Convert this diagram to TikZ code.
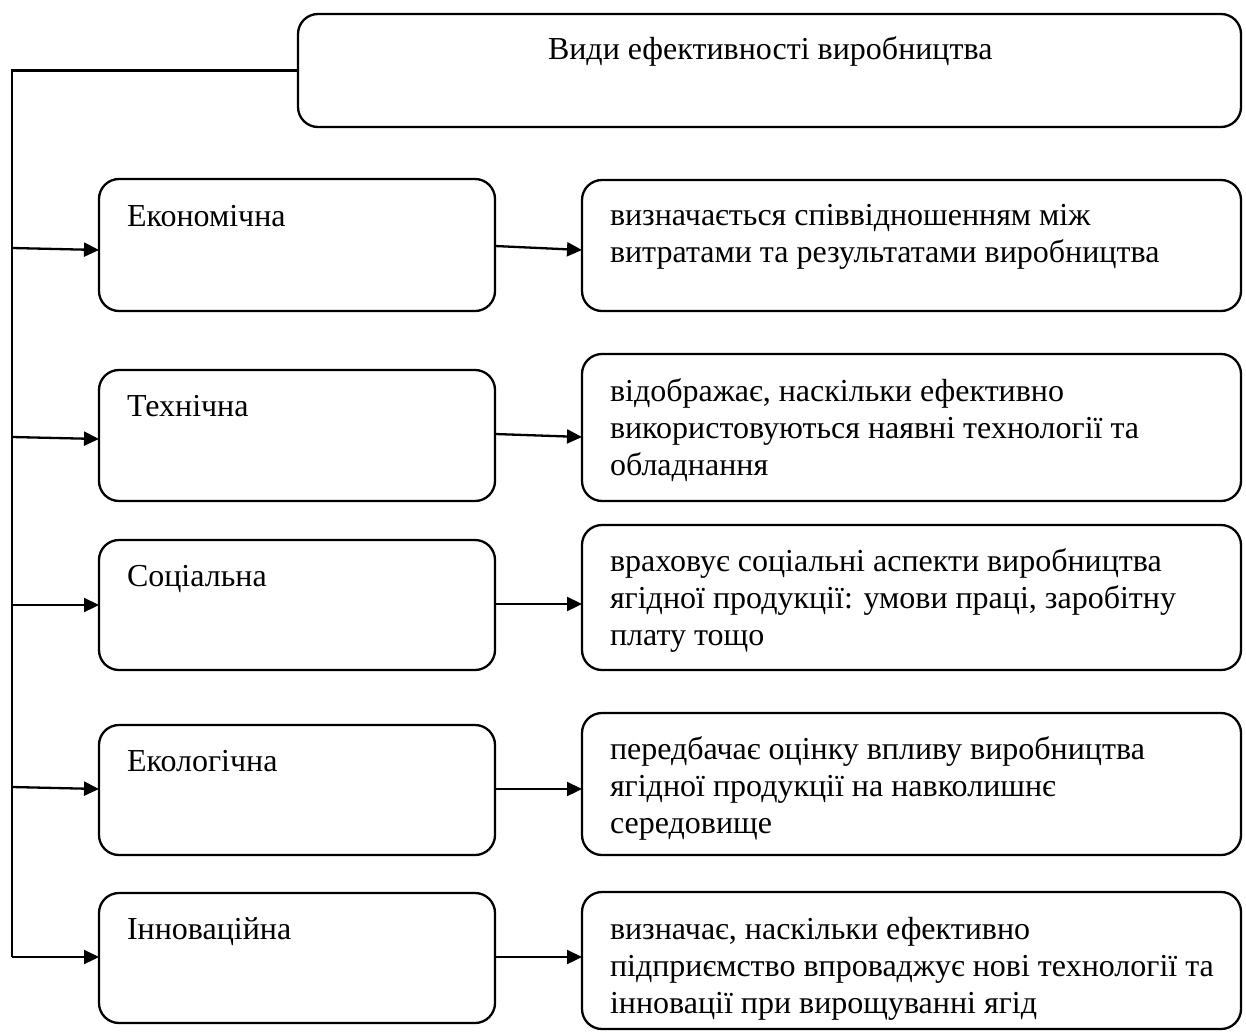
\documentclass[tikz,border=0pt]{standalone}
\usepackage{fontspec}
\setmainfont{Liberation Serif}
\usetikzlibrary{arrows.meta}
\begin{document}
\begin{tikzpicture}[x=1pt,y=-1pt,
  box/.style={draw,line width=2.3pt,rounded corners=20pt,inner sep=0pt,outer sep=0pt},
  lbl/.style={anchor=base west,inner sep=0pt,outer sep=0pt,align=left,
    font=\fontsize{32}{37}\selectfont},
  conn/.style={line width=2.3pt},
  arr/.style={line width=2.3pt,-{Triangle[length=15pt,width=14pt]}}]
\useasboundingbox (0,0) rectangle (1246,1032);
% top box
\node[box,minimum width=943pt,minimum height=113pt] (top) at (769.5,70.5) {};
\node[lbl] (ttop) at (548,60) {Види ефективності виробництва};
% left boxes
\node[box,minimum width=396pt,minimum height=132pt] (l1) at (297,245) {};
\node[box,minimum width=396pt,minimum height=131pt] (l2) at (297,435.5) {};
\node[box,minimum width=396pt,minimum height=130pt] (l3) at (297,605) {};
\node[box,minimum width=396pt,minimum height=130pt] (l4) at (297,790) {};
\node[box,minimum width=396pt,minimum height=130pt] (l5) at (297,958) {};
% right boxes
\node[box,minimum width=659pt,minimum height=131pt] (r1) at (911.5,245.5) {};
\node[box,minimum width=659pt,minimum height=147pt] (r2) at (911.5,427.5) {};
\node[box,minimum width=659pt,minimum height=145pt] (r3) at (911.5,597.5) {};
\node[box,minimum width=659pt,minimum height=142pt] (r4) at (911.5,784) {};
\node[box,minimum width=659pt,minimum height=137pt] (r5) at (911.5,960.5) {};
% labels
\node[lbl] (tl1) at (127,226) {Економічна};
\node[lbl] (tl2) at (127,416) {Технічна};
\node[lbl] (tl3) at (127,586) {Соціальна};
\node[lbl] (tl4) at (127,771) {Екологічна};
\node[lbl] (tl5) at (127,939) {Інноваційна};
% multi-line labels: anchored at the baseline of their last line
\node[lbl] (tr1) at (610,262) {визначається співвідношенням між\\витратами та результатами виробництва};
\node[lbl] (tr2) at (610,475) {відображає, наскільки ефективно\\використовуються наявні технології та\\обладнання};
\node[lbl] (tr3) at (610,645) {враховує соціальні аспекти виробництва\\ягідної продукції: умови праці, заробітну\\плату тощо};
\node[lbl] (tr4) at (610,833) {передбачає оцінку впливу виробництва\\ягідної продукції на навколишнє\\середовище};
\node[lbl] (tr5) at (610,1013) {визначає, наскільки ефективно\\підприємство впроваджує нові технології та\\інновації при вирощуванні ягід};
% connector coordinates on the spine
\coordinate (c1) at (12,248);
\coordinate (c2) at (12,437);
\coordinate (c3) at (12,605);
\coordinate (c4) at (12,787);
\coordinate (c5) at (12,957);
\draw[conn] (top.west) -| (c5);
\draw[arr] (c1) -- ([yshift=-5pt]l1.west);
\draw[arr] (c2) -- ([yshift=-3.5pt]l2.west);
\draw[arr] (c3) -- (l3.west);
\draw[arr] (c4) -- ([yshift=1pt]l4.west);
\draw[arr] (c5) -- ([yshift=1pt]l5.west);
\draw[arr] ([yshift=-1pt]l1.east) -- ([yshift=-4.5pt]r1.west);
\draw[arr] ([yshift=1.5pt]l2.east) -- ([yshift=-9.5pt]r2.west);
\draw[arr] ([yshift=1pt]l3.east) -- ([yshift=-6.5pt]r3.west);
\draw[arr] ([yshift=1pt]l4.east) -- ([yshift=-5pt]r4.west);
\draw[arr] ([yshift=1pt]l5.east) -- ([yshift=3.5pt]r5.west);
\end{tikzpicture}
\end{document}
